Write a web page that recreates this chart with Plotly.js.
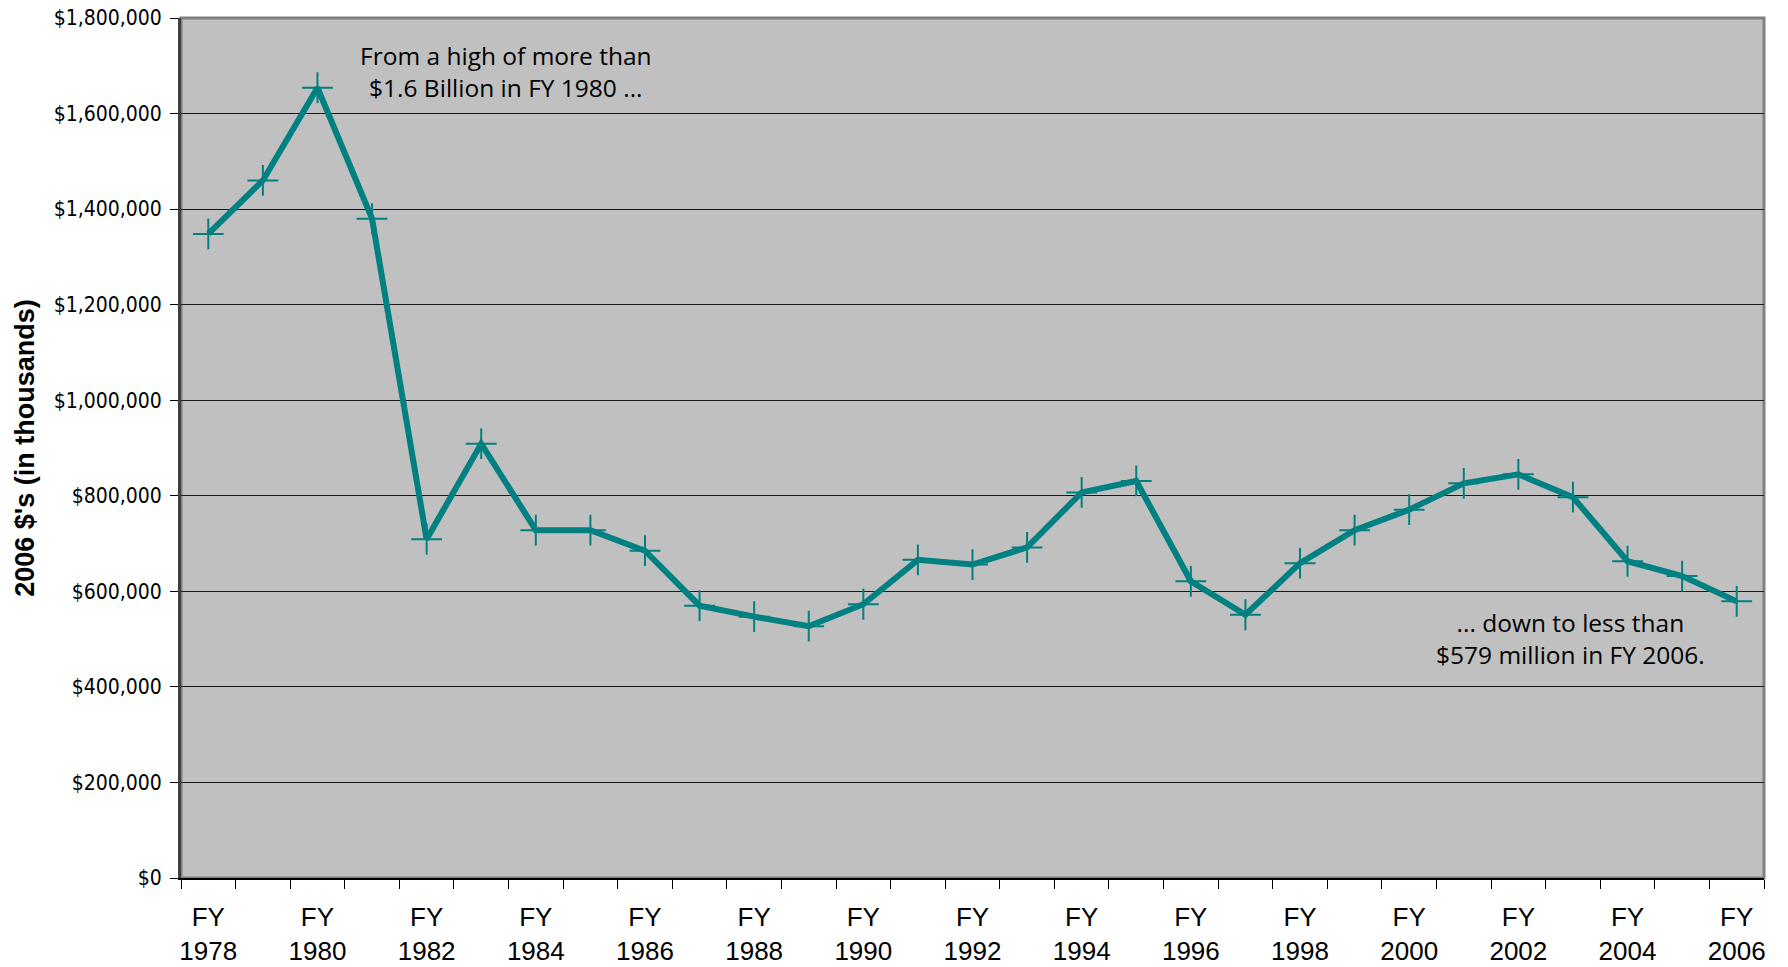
<!DOCTYPE html>
<html>
<head>
<meta charset="utf-8">
<script src="https://cdn.plot.ly/plotly-3.0.1.min.js"></script>
<style>
html,body{margin:0;padding:0;background:#fff;}
#chart{width:1788px;height:967px;}
</style>
</head>
<body>
<div id="chart"></div>
<script>
// Fiscal years (categories)
const years = [1978,1979,1980,1981,1982,1983,1984,1985,1986,1987,1988,1989,1990,1991,1992,1993,1994,1995,1996,1997,1998,1999,2000,2001,2002,2003,2004,2005,2006];
// Funding in 2006 dollars (thousands)
const funding = [1348000,1460000,1654000,1380000,709000,909000,728000,728000,685000,570000,547000,527000,573000,666000,656000,692000,807000,831000,621000,551000,659000,728000,771000,826000,845000,797000,663000,632000,579000];
// Labelled years on the x axis
const labelYears = [1978,1980,1982,1984,1986,1988,1990,1992,1994,1996,1998,2000,2002,2004,2006];
const labelText = labelYears.map(y => 'FY<br>' + y);
const yTitle = "2006 $'s (in thousands)";
const note1 = 'From a high of more than<br>$1.6 Billion in FY 1980 ...';
const note2 = '... down to less than<br>$579 million in FY 2006.';

const teal = '#008080';
const narrow = '"Liberation Sans Narrow", "Arial Narrow", "DejaVu Sans Condensed", "Liberation Sans", Arial, sans-serif';

const trace = {
  x: years,
  y: funding,
  type: 'scatter',
  mode: 'lines+markers',
  line: {color: teal, width: 6},
  marker: {symbol: 'cross-thin', size: 22, line: {color: teal, width: 2}, color: teal},
  hoverinfo: 'x+y'
};

const noteFont = {family: '"Open Sans", sans-serif', size: 24.5, color: '#000'};

const layout = {
  width: 1788,
  height: 967,
  margin: {l: 181, r: 24, t: 18, b: 89, pad: 0},
  paper_bgcolor: '#ffffff',
  plot_bgcolor: '#c0c0c0',
  showlegend: false,
  xaxis: {
    range: [years[0] - 0.5, years[years.length - 1] + 0.5],
    tickmode: 'array',
    tickvals: labelYears,
    ticktext: labelText,
    ticks: '',
    ticklabelstandoff: 15,
    tickfont: {family: '"Liberation Sans", Arial, sans-serif', size: 26, color: '#000'},
    showgrid: false,
    zeroline: false,
    showline: true,
    linecolor: '#000',
    linewidth: 2,
    minor: {tick0: years[0] - 0.5, dtick: 1, ticks: 'outside', ticklen: 9, tickcolor: '#000', tickwidth: 1, showgrid: false}
  },
  yaxis: {
    range: [0, 1800000],
    dtick: 200000,
    tickformat: ',d',
    tickprefix: '$',
    ticks: 'outside',
    ticklen: 8,
    tickcolor: '#000',
    tickwidth: 1,
    ticklabelstandoff: 4,
    tickfont: {family: narrow, size: 21, color: '#000'},
    showgrid: true,
    gridcolor: '#1a1a1a',
    gridwidth: 1,
    zeroline: false,
    showline: true,
    linecolor: '#404040',
    linewidth: 3,
    title: {text: yTitle, font: {family: '"Liberation Sans", Arial, sans-serif', size: 27, color: '#000', weight: 'bold'}, standoff: 12}
  },
  shapes: [{
    type: 'rect', xref: 'paper', yref: 'paper', x0: 0, x1: 1, y0: 0, y1: 1,
    line: {color: '#808080', width: 3}, layer: 'below'
  }],
  annotations: [
    {x: 1983.45, y: 1689000, xref: 'x', yref: 'y', text: note1, showarrow: false,
     font: noteFont, align: 'center'},
    {x: 2002.96, y: 502000, xref: 'x', yref: 'y', text: note2, showarrow: false,
     font: noteFont, align: 'center'}
  ]
};

Plotly.newPlot('chart', [trace], layout, {displayModeBar: false, staticPlot: true});
</script>
</body>
</html>
